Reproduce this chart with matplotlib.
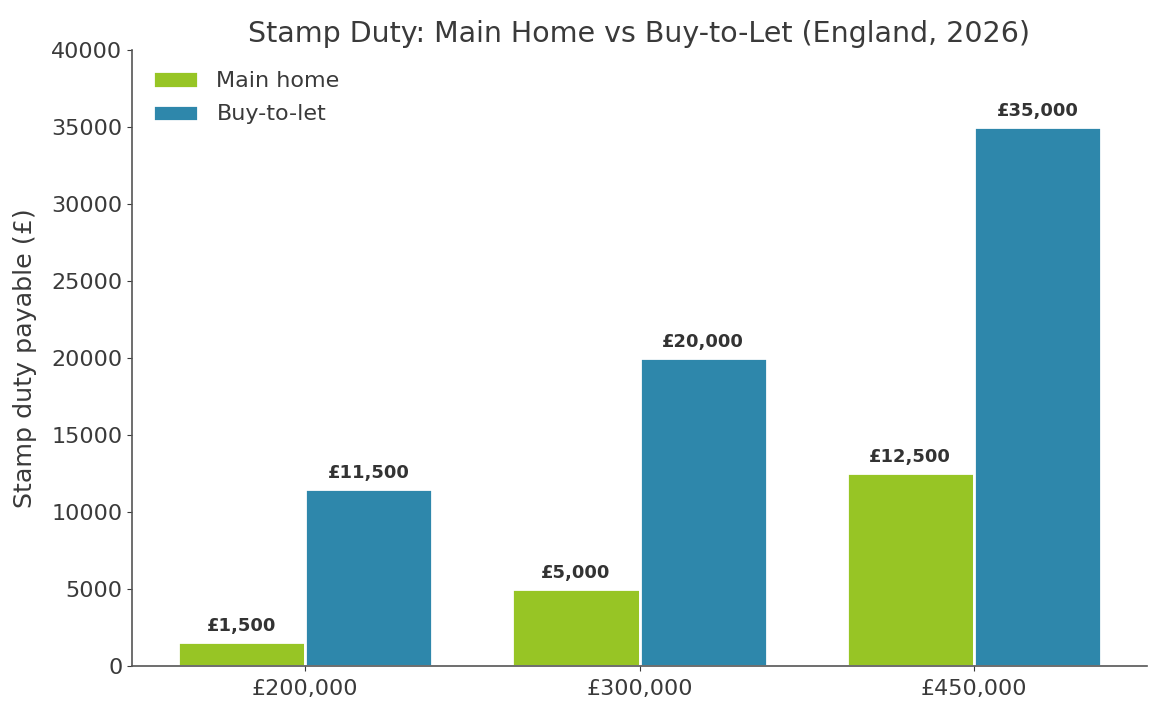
import matplotlib
matplotlib.use("Agg")
import matplotlib.pyplot as plt
import numpy as np

categories = ["£200,000", "£300,000", "£450,000"]
main_home = [1500, 5000, 12500]
buy_to_let = [11500, 20000, 35000]

text_color = "#3a3a3a"
plt.rcParams['font.family'] = ['DejaVu Sans']
plt.rcParams['text.color'] = text_color
plt.rcParams['axes.labelcolor'] = text_color
plt.rcParams['xtick.color'] = text_color
plt.rcParams['ytick.color'] = text_color

W, H = 1160, 718
fig = plt.figure(figsize=(W/100, H/100), dpi=100)
ax = fig.add_axes([132/W, 1 - 665.5/H, (1147-132)/W, (665.5-50)/H])

x = np.arange(len(categories))
w = 0.38
b1 = ax.bar(x - w/2, main_home, w, color="#97c525", edgecolor="white", linewidth=2.0, label="Main home")
b2 = ax.bar(x + w/2, buy_to_let, w, color="#2e87ab", edgecolor="white", linewidth=2.0, label="Buy-to-let")

for bars, vals in ((b1, main_home), (b2, buy_to_let)):
    ax.bar_label(bars, labels=[f"£{v:,}" for v in vals], padding=5,
                 fontsize=13, fontweight="bold", color="#333333")

ax.set_xticks(x)
ax.set_xticklabels(categories, fontsize=16)
ax.set_ylim(0, 40000)
ax.set_yticks(np.arange(0, 40001, 5000))
ax.tick_params(axis='y', labelsize=16)
ax.tick_params(axis='x', pad=6)
ax.set_ylabel("Stamp duty payable (£)", fontsize=18.3, labelpad=10)
ax.set_title("Stamp Duty: Main Home vs Buy-to-Let (England, 2026)", fontsize=20.5, color=text_color, pad=6)
for s in ("top", "right"):
    ax.spines[s].set_visible(False)
for s in ("left", "bottom"):
    ax.spines[s].set_color("#555555")
    ax.spines[s].set_linewidth(1.2)
ax.legend(loc="upper left", frameon=False, fontsize=16, handlelength=2.0, handleheight=0.75,
          borderaxespad=0.55, labelspacing=0.6, handletextpad=0.85)

fig.savefig("out.png", dpi=100)
